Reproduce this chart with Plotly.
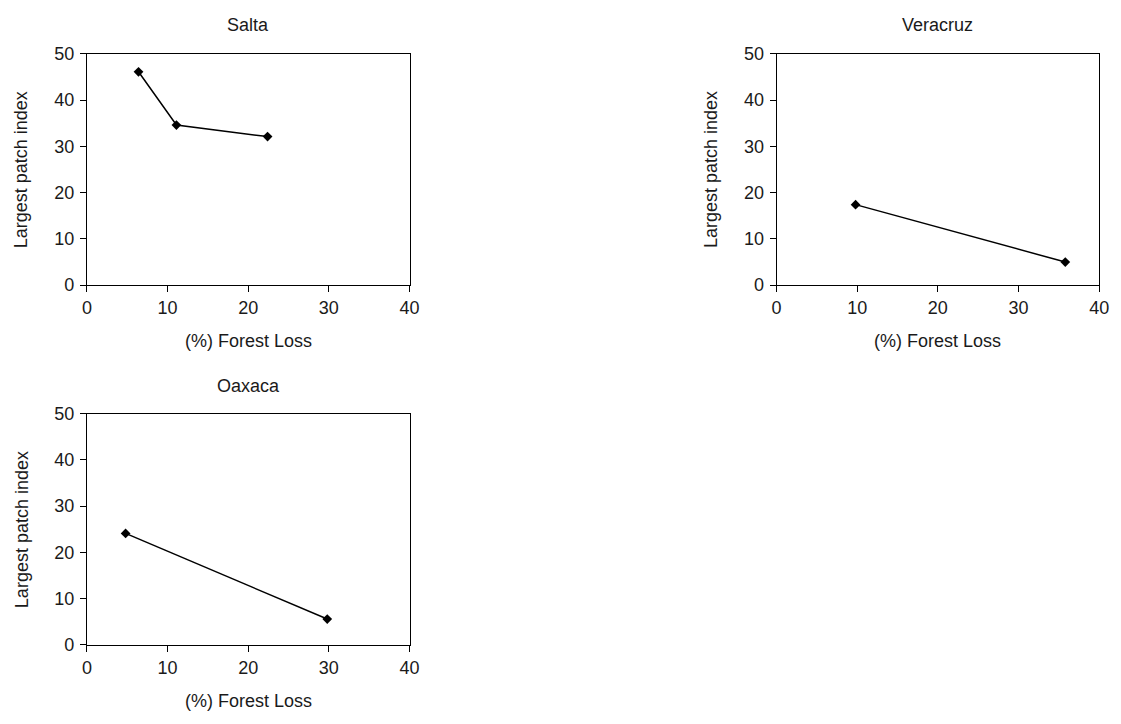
import plotly.graph_objects as go

W, H = 1121, 724

# Data
salta_x = [6.4, 11.1, 22.4]
salta_y = [46.1, 34.6, 32.1]
veracruz_x = [9.8, 35.8]
veracruz_y = [17.4, 5.0]
oaxaca_x = [4.8, 29.8]
oaxaca_y = [24.1, 5.6]

titles = ["Salta", "Veracruz", "Oaxaca"]
x_title = "(%) Forest Loss"
y_title = "Largest patch index"
x_ticks = [0, 10, 20, 30, 40]
y_ticks = [0, 10, 20, 30, 40, 50]

series = [(salta_x, salta_y), (veracruz_x, veracruz_y), (oaxaca_x, oaxaca_y)]

# plot-area pixel boxes (left, right, top, bottom)
boxes = [(83, 410, 45, 283), (782, 1109, 45, 283), (83, 410, 415, 653)]

FONT = dict(family="Liberation Sans, Arial, sans-serif", size=18, color="#1a1a1a")

fig = go.Figure()
for i, ((xs, ys), (l, r, t, b), title) in enumerate(zip(series, boxes, titles)):
    n = "" if i == 0 else str(i + 1)
    fig.add_trace(go.Scatter(
        x=xs, y=ys, mode="lines+markers",
        line=dict(color="black", width=1.5),
        marker=dict(symbol="diamond", size=7.5, color="black"),
        xaxis="x" + n, yaxis="y" + n, showlegend=False,
    ))
    xd = [l / W, r / W]
    yd = [(H - b) / H, (H - t) / H]
    common = dict(showgrid=False, zeroline=False, showline=True, linecolor="black",
                  linewidth=1, mirror=True, ticks="outside", ticklen=6,
                  tickcolor="black", tickfont=FONT)
    fig.layout["xaxis" + n] = dict(domain=xd, range=[0, 40], tickvals=x_ticks,
                                   anchor="y" + n, **common)
    fig.layout["yaxis" + n] = dict(domain=yd, range=[0, 50], tickvals=y_ticks,
                                   anchor="x" + n, ticklabelstandoff=2, **common)
    xr = "x" + n + " domain"
    yr = "y" + n + " domain"
    title_gap = 29 if i < 2 else 28
    fig.add_annotation(text=title, x=0.5, y=1, xref=xr, yref=yr, xanchor="center",
                       yanchor="middle", yshift=title_gap, showarrow=False, font=FONT)
    fig.add_annotation(text=x_title, x=0.5, y=0, xref=xr, yref=yr, xanchor="center",
                       yanchor="middle", yshift=-56, showarrow=False, font=FONT)
    fig.add_annotation(text=y_title, x=0, y=0.5, xref=xr, yref=yr, xanchor="center",
                       yanchor="middle", xshift=-65, textangle=-90, showarrow=False,
                       font=FONT)

fig.update_layout(width=W, height=H, autosize=False, margin=dict(l=0, r=0, t=0, b=0),
                  paper_bgcolor="white", plot_bgcolor="white", font=FONT)

fig.write_html("out.html",
               config={"displayModeBar": False, "responsive": False},
               post_script="document.body.style.margin='0';document.body.style.overflow='hidden';")
